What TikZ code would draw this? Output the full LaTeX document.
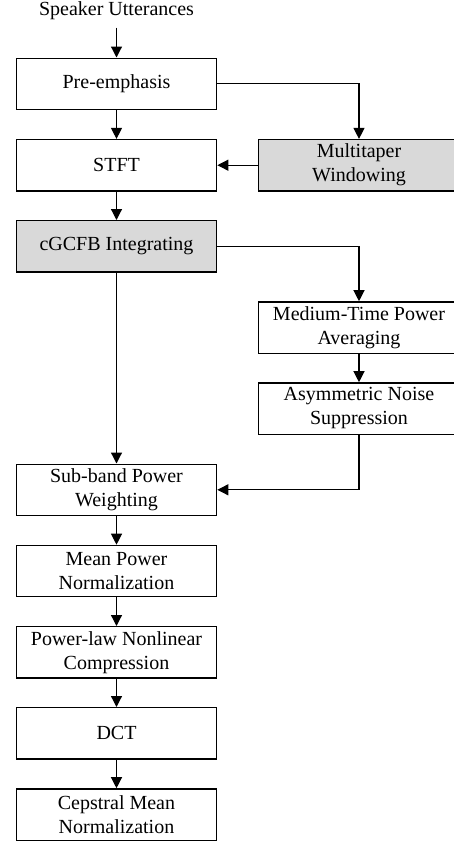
\documentclass[tikz,border=0pt]{standalone}
\usepackage{fontspec}
\setmainfont{Liberation Serif}
\usetikzlibrary{arrows.meta}
\begin{document}
\begin{tikzpicture}[x=1pt,y=-1pt,
  txt/.style={font=\fontsize{20}{24}\selectfont},
  box/.style={txt, draw=black, line width=1.3pt, minimum width=200.4pt, minimum height=51.3pt, inner sep=0pt, align=center, fill=white},
  shade/.style={fill=gray!30},
  arr/.style={-{Triangle[length=11pt,width=11pt]}, line width=1.2pt}]
\useasboundingbox (0,0) rectangle (454,844);
\clip (0,0) rectangle (454,844);
\node[txt, anchor=base, inner xsep=0pt, inner ysep=8.4pt, outer sep=0pt] (src) at (116.5,15) {Speaker Utterances};
\node[box] (pre) at (116.5,83.8) {Pre-emphasis};
\node[box] (stft) at (116.5,165.2) {STFT};
\node[box, shade] (multi) at (359,165.2) {Multitaper\\Windowing};
\node[box, shade] (cg) at (116.5,246.3) {cGCFB Integrating};
\node[box] (med) at (359,327.5) {Medium-Time Power\\Averaging};
\node[box] (asym) at (359,408.5) {Asymmetric Noise\\Suppression};
\node[box] (sub) at (116.5,489.8) {Sub-band Power\\Weighting};
\node[box] (mean) at (116.5,571) {Mean Power\\Normalization};
\node[box] (pow) at (116.5,652.3) {Power-law Nonlinear\\Compression};
\node[box] (dct) at (116.5,733.3) {DCT};
\node[box] (cmn) at (116.5,814.5) {Cepstral Mean\\Normalization};
\draw[arr] (src.south) -- (pre.north);
\draw[arr] (pre.south) -- (stft.north);
\draw[arr] (pre.east) -| (multi.north);
\draw[arr] (multi.west) -- (stft.east);
\draw[arr] (stft.south) -- (cg.north);
\draw[arr] (cg.east) -| (med.north);
\draw[arr] (med.south) -- (asym.north);
\draw[arr] (cg.south) -- (sub.north);
\draw[arr] (asym.south) |- (sub.east);
\draw[arr] (sub.south) -- (mean.north);
\draw[arr] (mean.south) -- (pow.north);
\draw[arr] (pow.south) -- (dct.north);
\draw[arr] (dct.south) -- (cmn.north);
\end{tikzpicture}
\end{document}
